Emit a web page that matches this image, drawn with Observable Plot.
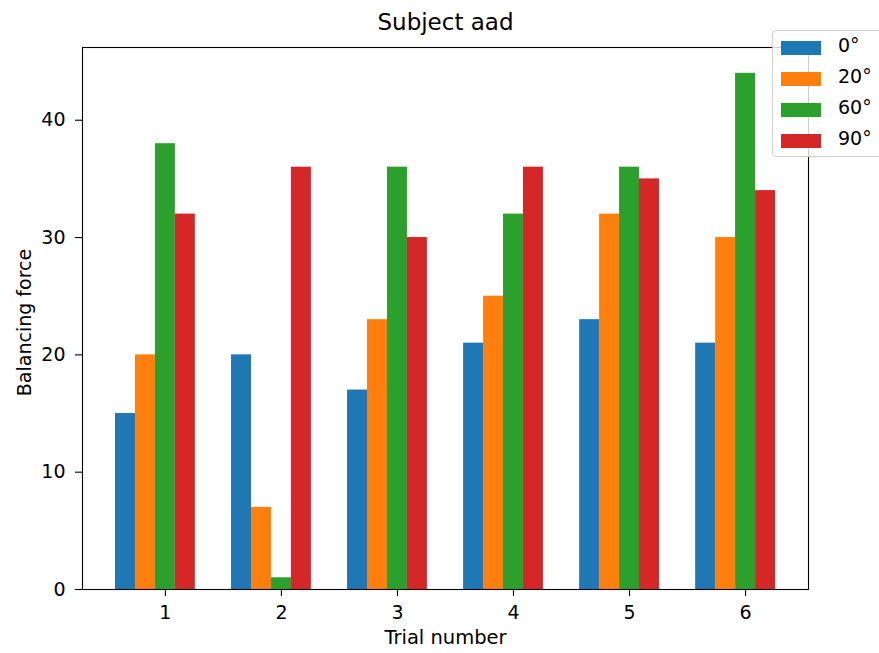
<!DOCTYPE html>
<html>
<head>
<meta charset="utf-8">
<script src="https://cdn.jsdelivr.net/npm/d3@7"></script>
<script src="https://cdn.jsdelivr.net/npm/@observablehq/plot@0.6"></script>
<style>
  html, body { margin: 0; padding: 0; background: #fff; }
  #wrap { position: relative; width: 879px; height: 653px; overflow: hidden; font-family: "DejaVu Sans", sans-serif; }
  #legend { position: absolute; left: 772px; top: 30px; width: 130px; height: 127px; box-sizing: border-box;
    background: rgba(255,255,255,0.8); border: 1px solid #d0d0d0; border-radius: 4px; }
  .item { position: absolute; left: 8px; height: 14px; }
  .sw { position: absolute; left: 0; top: 0; width: 40px; height: 14px; }
  .lab { position: absolute; left: 57px; top: -3px; font-size: 19px; line-height: 14px; color: #000; white-space: nowrap; }
</style>
</head>
<body>
<div id="wrap"><div id="chart"></div><div id="legend"></div></div>
<script>
const trials = [1, 2, 3, 4, 5, 6];
const seriesNames = ["0°", "20°", "60°", "90°"];
const colors = ["#1f77b4", "#ff7f0e", "#2ca02c", "#d62728"];
const angle0 = [15, 20, 17, 21, 23, 21];
const angle20 = [20, 7, 23, 25, 32, 30];
const angle60 = [38, 1, 36, 32, 36, 44];
const angle90 = [32, 36, 30, 36, 35, 34];
const yTicks = [0, 10, 20, 30, 40];
const title = "Subject aad";
const xLabel = "Trial number";
const yLabel = "Balancing force";

const barW = 0.172;
const seriesValues = [angle0, angle20, angle60, angle90];
const rows = [];
seriesValues.forEach((vals, si) => {
  trials.forEach((t, i) => {
    const off = (si - 2) * barW;
    rows.push({series: seriesNames[si], x1: t + off - barW / 2, x2: t + off + barW / 2, value: vals[i]});
  });
});
const span = (trials[trials.length - 1] + 1.5 * barW) - (trials[0] - 2.5 * barW);
const m = 0.05 * span;
const xDomain = [trials[0] - 2.5 * barW - m, trials[trials.length - 1] + 1.5 * barW + m];
const yMax = d3.max(seriesValues.flat()) * 1.05;

const chart = Plot.plot({
  width: 879,
  height: 653,
  marginLeft: 82,
  marginRight: 71,
  marginTop: 47,
  marginBottom: 64,
  style: {fontFamily: "DejaVu Sans, sans-serif", fontSize: "19px", background: "#fff", color: "#000"},
  x: {domain: xDomain, ticks: trials, tickFormat: d => String(d), label: null},
  y: {domain: [0, yMax], ticks: yTicks, label: null},
  color: {domain: seriesNames, range: colors},
  marks: [
    Plot.rectY(rows, {x1: "x1", x2: "x2", y1: 0, y2: "value", fill: "series", inset: 0}),
    Plot.axisX({ticks: trials, tickSize: 7, tickPadding: 9, fontSize: 19, stroke: "#000", strokeWidth: 1.1, tickFormat: d => String(d), label: null}),
    Plot.axisY({ticks: yTicks, tickSize: 7, tickPadding: 10, fontSize: 19, stroke: "#000", strokeWidth: 1.1, label: null}),
    Plot.frame({stroke: "#000", strokeWidth: 1.1}),
    Plot.text([title], {frameAnchor: "top", dy: -34, fontSize: 23, fill: "#000", text: d => d}),
    Plot.text([xLabel], {frameAnchor: "bottom", dy: 54, fontSize: 19.5, fill: "#000", text: d => d}),
    Plot.text([yLabel], {frameAnchor: "left", textAnchor: "middle", dx: -58, dy: 4, rotate: -90, fontSize: 19, fill: "#000", text: d => d})
  ]
});
document.getElementById("chart").appendChild(chart);

const legend = document.getElementById("legend");
seriesNames.forEach((name, i) => {
  const it = document.createElement("div");
  it.className = "item";
  it.style.top = (10 + i * 31) + "px";
  it.innerHTML = `<div class="sw" style="background:${colors[i]}"></div><div class="lab">${name}</div>`;
  legend.appendChild(it);
});
</script>
</body>
</html>
